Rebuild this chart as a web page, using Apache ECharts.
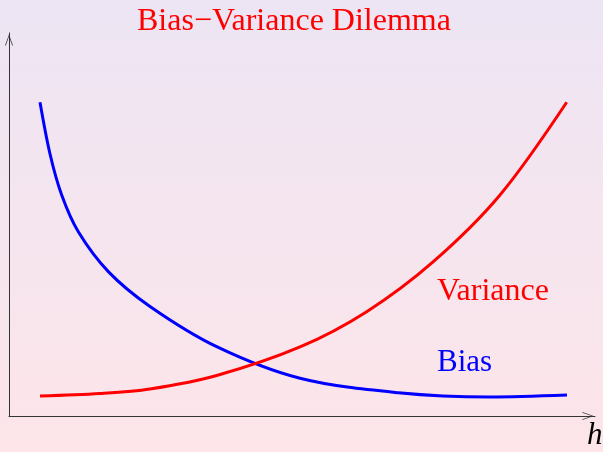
<!DOCTYPE html>
<html>
<head>
<meta charset="utf-8">
<title>Bias-Variance Dilemma</title>
<script src="https://cdn.jsdelivr.net/npm/echarts@6/dist/echarts.min.js"></script>
<style>
  html, body { margin: 0; padding: 0; }
  #chart { width: 603px; height: 452px; }
</style>
</head>
<body>
<div id="chart"></div>
<script>
// data (x = h, y = error, both in 0..100 units)
var biasX = [5.29, 7.00, 8.99, 11.83, 16.95, 24.06, 35.44, 49.66, 66.43, 82.08, 95.22];
var biasY = [81.9, 68.4, 57.7, 48.1, 37.7, 28.6, 18.1, 9.84, 6.08, 4.96, 5.48];

var varianceX = [5.29, 15.53, 24.06, 35.44, 49.66, 61.04, 72.41, 83.79, 95.17];
var varianceY = [5.22, 5.87, 7.05, 10.57, 18.02, 27.23, 40.29, 57.70, 81.91];

var titleText = 'Bias\u2212Variance Dilemma';
var serif = "'Liberation Serif', 'Times New Roman', serif";

function pairs(xs, ys) {
    var out = [];
    xs.forEach(function (x, i) {
        out.push([x, ys[i]]);
    });
    return out;
}

// open arrow head ("->"), pointing up before rotation
var openArrow = 'path://M0,14 L5,0 L10,14 L9,14 L5,2.5 L1,14 Z';

var chart = echarts.init(document.getElementById('chart'));

var option = {
    animation: false,
    backgroundColor: new echarts.graphic.LinearGradient(0, 0, 0, 1, [
        { offset: 0, color: '#ede5f4' },
        { offset: 1, color: '#fde5e9' }
    ]),
    title: {
        text: titleText,
        left: 137,
        top: 6,
        padding: 0,
        textStyle: {
            color: '#ff0000',
            fontFamily: serif,
            fontWeight: 'normal',
            fontSize: 32
        }
    },
    grid: {
        left: 9,
        right: 8,
        top: 33,
        bottom: 36
    },
    xAxis: {
        type: 'value',
        min: 0,
        max: 100,
        axisLine: {
            show: true,
            onZero: false,
            symbol: ['none', openArrow],
            symbolSize: [8, 14],
            symbolOffset: [0, -7],
            lineStyle: { color: '#333', width: 1 }
        },
        axisTick: { show: false },
        axisLabel: { show: false },
        splitLine: { show: false }
    },
    yAxis: {
        type: 'value',
        min: 0,
        max: 100,
        axisLine: {
            show: true,
            onZero: false,
            symbol: ['none', openArrow],
            symbolSize: [8, 14],
            symbolOffset: [0, -7],
            lineStyle: { color: '#333', width: 1 }
        },
        axisTick: { show: false },
        axisLabel: { show: false },
        splitLine: { show: false }
    },
    series: [
        {
            name: 'Bias',
            type: 'line',
            data: pairs(biasX, biasY),
            smooth: 0.33,
            showSymbol: false,
            lineStyle: { color: '#0000ff', width: 3 }
        },
        {
            name: 'Variance',
            type: 'line',
            data: pairs(varianceX, varianceY),
            smooth: 0.33,
            showSymbol: false,
            lineStyle: { color: '#ff0000', width: 3 }
        }
    ],
    graphic: [
        {
            type: 'text',
            left: 437,
            top: 276,
            style: { text: 'Variance', fill: '#ff0000', font: '32px ' + serif }
        },
        {
            type: 'text',
            left: 437,
            top: 347,
            style: { text: 'Bias', fill: '#0000ff', font: '31px ' + serif }
        },
        {
            type: 'text',
            left: 587,
            top: 420,
            style: { text: 'h', fill: '#000', font: 'italic 31px ' + serif }
        }
    ]
};

chart.setOption(option);
</script>
</body>
</html>
